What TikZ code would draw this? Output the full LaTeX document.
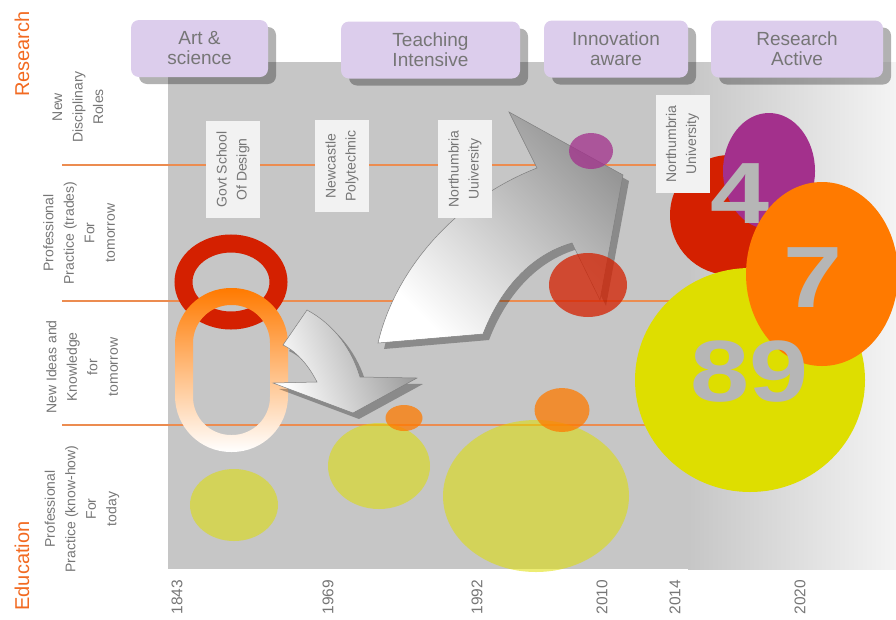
\documentclass[tikz,border=0pt]{standalone}
\usepackage{fontspec}
\setmainfont{Liberation Sans}
\usepackage{tikz}
\usetikzlibrary{shadows}

\definecolor{bggray}{HTML}{C6C6C6}
\definecolor{bglight}{HTML}{F4F4F4}
\definecolor{lavender}{HTML}{DCCDEC}
\definecolor{txtgray}{HTML}{767676}
\definecolor{axisorange}{HTML}{F26A21}
\definecolor{dotorange}{HTML}{EC8C50}
\definecolor{ringred}{HTML}{D42000}
\definecolor{bigpurple}{HTML}{A3308C}
\definecolor{bigorange}{HTML}{FF7A00}
\definecolor{bigyellow}{HTML}{DEDE00}
\definecolor{numgray}{HTML}{B6B6B6}
\definecolor{boxwhite}{HTML}{F2F2F2}
\definecolor{arrowgray}{HTML}{969696}
\definecolor{peach}{HTML}{FFD6B8}

\begin{document}
\begin{tikzpicture}[x=1pt,y=-1pt,
    topbox/.style={fill=lavender, rounded corners=8pt, align=center, text=txtgray,
      minimum height=57pt, font=\fontsize{19}{20}\selectfont,
      drop shadow={shadow xshift=8pt, shadow yshift=-7pt, opacity=.3, fill=black}},
    rowlab/.style={rotate=90, align=center, text=txtgray, font=\fontsize{14}{20.5}\selectfont},
    axislab/.style={rotate=90, text=axisorange, font=\fontsize{20}{20}\selectfont},
    instbox/.style={rotate=90, fill=boxwhite, align=center, text=txtgray,
      minimum height=54pt, font=\fontsize{14}{20}\selectfont},
    yearlab/.style={rotate=90, text=txtgray, font=\fontsize{15.5}{16}\selectfont},
    bignum/.style={text=numgray, inner sep=0pt, xscale=1.22,
      font=\fontsize{87}{87}\selectfont\bfseries},
    rowline/.style={dotorange, line width=1.3pt},
    curvarrow/.style={draw=gray, line width=0.5pt,
      drop shadow={shadow xshift=6pt, shadow yshift=-6pt, opacity=.3, fill=black}}]
  \useasboundingbox (0,0) rectangle (896,619);

  % background
  \shade[left color=bggray, right color=bglight] (688,62) rectangle (896,569);
  \fill[bggray] (168,62) rectangle (688,569);

  % row lines
  \draw[rowline] (62,165) -- (660,165);
  \draw[rowline] (62,301) -- (680,301);
  \draw[rowline] (62,425) -- (650,425);

  % pale bubbles
  \fill[bigyellow, opacity=.55] (234,505) ellipse [x radius=44pt, y radius=36pt];
  \fill[bigyellow, opacity=.55] (379,466) ellipse [x radius=51pt, y radius=43pt];
  \fill[bigyellow, opacity=.55] (536,496) ellipse [x radius=93pt, y radius=76pt];

  % chain links
  \draw[ringred, line width=18pt] (231,282) ellipse [x radius=47.5pt, y radius=38.5pt];
  \shade[even odd rule, top color=bigorange, middle color=peach, bottom color=white]
    [rounded corners=56pt] (175,288) rectangle (288,452)
    [rounded corners=38pt] (193,305) rectangle (270,435);

  % arrows
  \shade[curvarrow, top color=arrowgray, bottom color=white, shading angle=-70]
    (307,310) .. controls (335,325) and (352,350) .. (360,377) -- (417,378) -- (353,413)
    -- (273,383) -- (317,382) .. controls (310,368) and (298,352) .. (283,345) -- cycle;
  \shade[curvarrow, top color=arrowgray, bottom color=white, shading angle=-45]
    (378,343) .. controls (395,270) and (455,200) .. (537,168) -- (509,112) -- (623,175)
    -- (600,300) -- (572,243) .. controls (530,255) and (500,290) .. (483,334) -- cycle;

  % institutions
  \node[instbox, minimum width=97pt] (govt) at (233,169.5) {Govt School\\Of Design};
  \node[instbox, minimum width=92pt] (poly) at (342,166) {Newcastle\\Polytechnic};
  \node[instbox, minimum width=98pt] (nu1) at (465,169) {Northumbria\\Uuiversity};

  % small bubbles
  \fill[bigorange, opacity=.75] (404,418) ellipse [x radius=18.5pt, y radius=13pt];
  \fill[bigorange, opacity=.75] (562,410) ellipse [x radius=27.5pt, y radius=22pt];
  \fill[bigpurple, opacity=.75] (591,151) ellipse [x radius=22pt, y radius=18pt];
  \fill[ringred, opacity=.75] (588,285) ellipse [x radius=39pt, y radius=32pt];

  % research active bubbles
  \fill[ringred] (730,215) circle [radius=60pt];
  \fill[bigpurple] (769,171) ellipse [x radius=46pt, y radius=58pt];
  \node[bignum] (four) at (740,194) {4};
  \fill[bigyellow] (750,380) ellipse [x radius=115pt, y radius=112pt];
  \fill[bigorange] (822,274) ellipse [x radius=76pt, y radius=92pt];
  \node[bignum] (seven) at (813,278) {7};
  \node[bignum] (eightnine) at (750,372) {89};
  \node[instbox, minimum width=98pt] (nu2) at (682.5,144) {Northumbria\\University};

  % top boxes
  \node[topbox, minimum width=137pt] (art) at (199.5,48.5) {Art \&\\science};
  \node[topbox, minimum width=179pt] (teach) at (430.5,50) {Teaching\\Intensive};
  \node[topbox, minimum width=144pt] (innov) at (616,49) {Innovation\\aware};
  \node[topbox, minimum width=172pt] (resact) at (797,49) {Research\\Active};

  % left axis
  \node[axislab] (research) at (22,54) {Research};
  \node[axislab] (education) at (22,566) {Education};
  \node[rowlab] (roles) at (78,107) {New\\Disciplinary\\Roles};
  \node[rowlab] (trades) at (79,233) {Professional\\Practice (trades)\\For\\tomorrow};
  \node[rowlab] (ideas) at (82,367) {New Ideas and\\Knowledge\\for\\tomorrow};
  \node[rowlab] (knowhow) at (82,509) {Professional\\Practice (know-how)\\For\\today};

  % years
  \node[yearlab] (y1843) at (177,597) {1843};
  \node[yearlab] (y1969) at (328,597) {1969};
  \node[yearlab] (y1992) at (477,597) {1992};
  \node[yearlab] (y2010) at (602,597) {2010};
  \node[yearlab] (y2014) at (675,597) {2014};
  \node[yearlab] (y2020) at (800,597) {2020};
\end{tikzpicture}
\end{document}
